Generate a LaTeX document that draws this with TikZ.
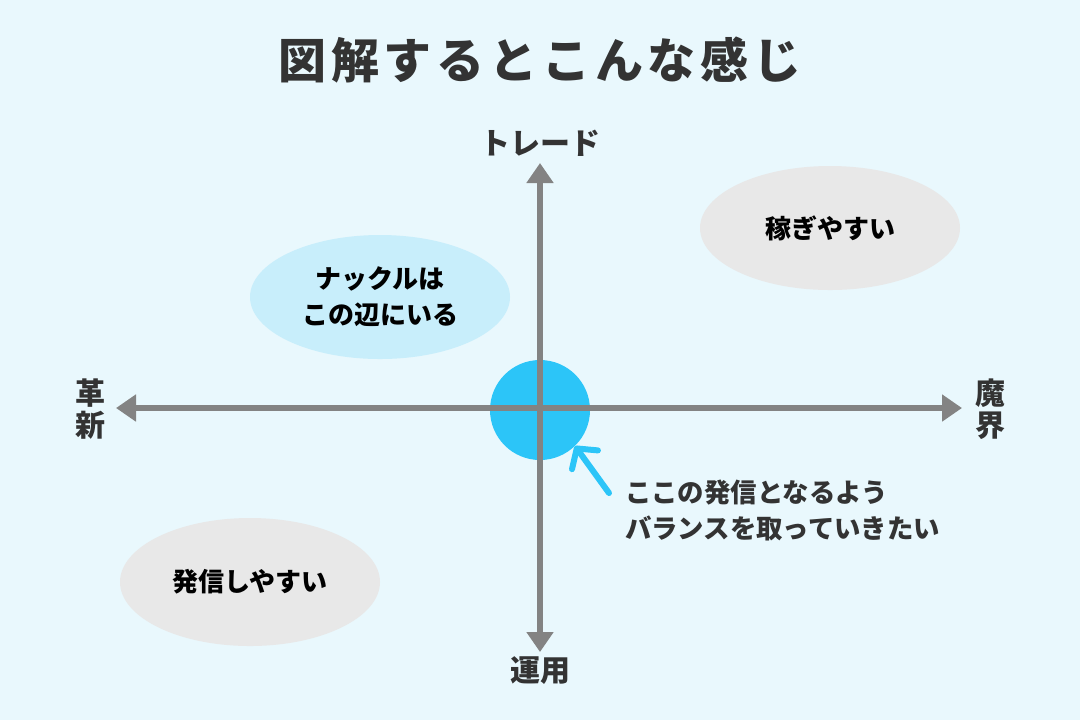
\documentclass[tikz,border=0pt]{standalone}
\usepackage{fontspec}
\setmainfont{Noto Sans CJK JP}
\usetikzlibrary{positioning, arrows.meta, calc}
\definecolor{bgblue}{HTML}{E9F8FD}
\definecolor{axgray}{HTML}{838383}
\definecolor{ptblue}{HTML}{2CC5F8}
\definecolor{lightblue}{HTML}{C8EEFB}
\definecolor{lightgray}{HTML}{E8E8E8}
\definecolor{txtdark}{HTML}{333333}
\tikzset{
  axis/.style={axgray, line width=3pt, {Triangle[length=10pt,width=13pt]}-{Triangle[length=10pt,width=13pt]}},
  axlabel/.style={font=\bfseries\fontsize{15}{17}\selectfont, text=txtdark, align=center},
  blob/.style={ellipse, minimum width=130pt, minimum height=62pt, align=center, font=\bfseries\fontsize{13}{18}\selectfont, text=black}
}
\usetikzlibrary{shapes.geometric}
\begin{document}
\begin{tikzpicture}[x=0.5pt, y=-0.5pt]
        \fill[bgblue] (0,0) rectangle (1080,720);
        \useasboundingbox (0,0) rectangle (1080,720);
        \node[font=\bfseries\fontsize{24}{28}\selectfont, text=txtdark] (title) at (540,60)
          {\addfontfeature{LetterSpace=10}図解するとこんな感じ};
        % quadrant blobs
        \node[blob, fill=lightblue] (knuckle) at (380,297) {ナックルは\\この辺にいる};
        \node[blob, fill=lightgray] (earn) at (830,228) {稼ぎやすい};
        \node[blob, fill=lightgray, minimum height=64pt] (post) at (250,582) {発信しやすい};
        % axes
        \coordinate (top) at (540,163);
        \coordinate (bottom) at (540,652);
        \coordinate (left) at (116,408);
        \coordinate (right) at (962,408);
        \fill[ptblue] (540,410) circle (50);
        \draw[axis] (left) -- (right);
        \draw[axis] (bottom) -- (top);
        \node[axlabel] (trade) at (540,143) {トレード};
        \node[axlabel] (ops) at (540,671) {運用};
        \node[axlabel, font=\bfseries\fontsize{15}{16}\selectfont] (innov) at (90,409) {革\\新};
        \node[axlabel, font=\bfseries\fontsize{15}{16}\selectfont] (demon) at (990,409) {魔\\界};
        % pointer
        \node[anchor=west, align=left, font=\bfseries\fontsize{13.2}{18}\selectfont, text=txtdark] (note) at (618,510)
          {ここの発信となるよう\\バランスを取っていきたい};
        \coordinate (tail) at (609,493);
        \coordinate (tip) at (575,446);
        \draw[ptblue, line width=3pt, line cap=round, -{Straight Barb[length=7pt,width=16pt,round]}] (tail) -- (tip);
      \end{tikzpicture}
\end{document}
